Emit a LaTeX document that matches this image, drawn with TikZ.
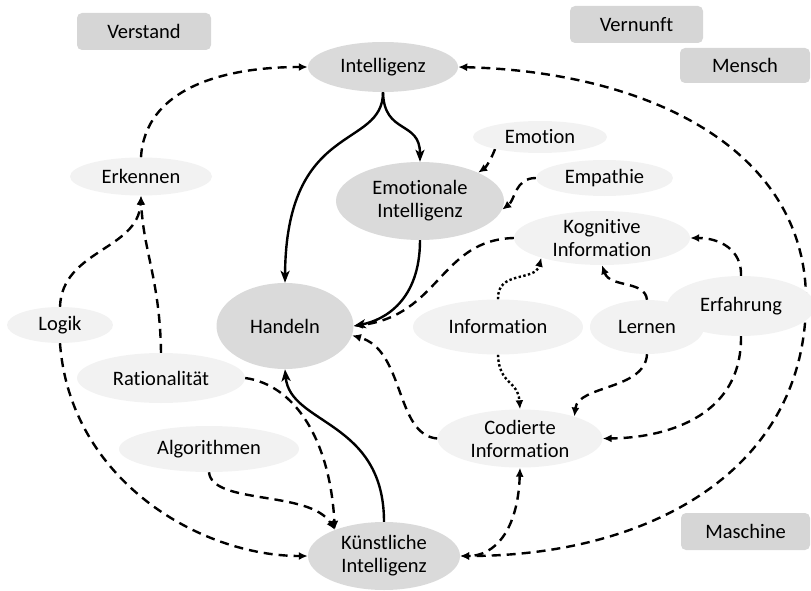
\documentclass[tikz,border=0pt]{standalone}
\usepackage{fontspec}
\setmainfont{Carlito}[Ligatures=NoCommon]
\usetikzlibrary{shapes.geometric,arrows.meta}
\definecolor{boxgray}{HTML}{D6D6D6}
\definecolor{ellgray}{HTML}{DADADA}
\definecolor{ellLight}{HTML}{F2F2F2}
\pgfdeclarelayer{bg}
\pgfsetlayers{bg,main}
\begin{document}
\begin{tikzpicture}[x=1pt,y=-1pt,
  every node/.style={font=\fontsize{20.5}{23}\selectfont, align=center, inner sep=0pt, text=black},
  tagbox/.style={rectangle, rounded corners=5pt, fill=boxgray},
  bigell/.style={ellipse, fill=ellgray},
  smallell/.style={ellipse, fill=ellLight},
  dashline/.style={line width=2.4pt, dash pattern=on 9pt off 6pt, -{Latex[length=9pt,width=8pt]}},
  dashboth/.style={line width=2.4pt, dash pattern=on 9pt off 6pt, {Latex[length=9pt,width=8pt]}-{Latex[length=9pt,width=8pt]}},
  dotline/.style={line width=2.4pt, dash pattern=on 2.4pt off 2.4pt, -{Latex[length=9pt,width=8pt]}},
  solidline/.style={line width=2.4pt, -{Stealth[length=12pt,width=9pt,inset=3pt]}}
]
\useasboundingbox (0,0) rectangle (811,591);

% category boxes
\node[tagbox, minimum width=134pt, minimum height=37pt] (Verstand) at (144,31.5) {Verstand};
\node[tagbox, minimum width=133pt, minimum height=37pt] (Vernunft) at (636.5,24.5) {Vernunft};
\node[tagbox, minimum width=130pt, minimum height=35pt] (Mensch) at (745,65.5) {Mensch};
\node[tagbox, minimum width=129pt, minimum height=37pt] (Maschine) at (745.5,531.5) {Maschine};

% main ellipses
\node[bigell, minimum width=150pt, minimum height=50pt] (Intelligenz) at (383,67) {Intelligenz};
\node[bigell, minimum width=168pt, minimum height=78pt] (EmoInt) at (420,201) {Emotionale\\Intelligenz};
\node[bigell, minimum width=137pt, minimum height=86pt] (Handeln) at (285,326) {Handeln};
\node[bigell, minimum width=152pt, minimum height=68pt] (Kuenstliche) at (384,556) {Künstliche\\Intelligenz};

% light ellipses
\node[smallell, minimum width=134pt, minimum height=32pt] (Emotion) at (540,137) {Emotion};
\node[smallell, minimum width=137pt, minimum height=36pt] (Empathie) at (604.5,178) {Empathie};
\node[smallell, minimum width=176pt, minimum height=54pt] (Kognitive) at (602,238) {Kognitive\\Information};
\node[smallell, minimum width=170pt, minimum height=55pt] (Information) at (498,327) {Information};
\node[smallell, minimum width=114pt, minimum height=54pt] (Lernen) at (647,327) {Lernen};
\node[smallell, minimum width=148pt, minimum height=60pt] (Erfahrung) at (741,306) {Erfahrung};
\node[smallell, minimum width=165pt, minimum height=58pt] (Codierte) at (520,438.5) {Codierte\\Information};
\node[smallell, minimum width=142pt, minimum height=38pt] (Erkennen) at (141,176.5) {Erkennen};
\node[smallell, minimum width=106pt, minimum height=36pt] (Logik) at (60,325) {Logik};
\node[smallell, minimum width=168pt, minimum height=50pt] (Rationalitaet) at (161,378) {Rationalität};
\node[smallell, minimum width=180pt, minimum height=46pt] (Algorithmen) at (209,449) {Algorithmen};

\begin{pgfonlayer}{bg}
\draw[dashline] (Erkennen.north) .. controls (145,90) and (220,67) .. (Intelligenz.west);
\draw[dashboth] (Intelligenz.east) .. controls (650,72) and (806,150) .. (806,300) .. controls (806,470) and (650,556) .. (Kuenstliche.east);
\draw[dashline] (Emotion.195) .. controls (490,162) and (485,168) .. (EmoInt.26);
\draw[dashline] (Empathie.west) .. controls (515,178) and (515,200) .. (EmoInt.-6);
\draw[solidline] (Intelligenz.south) .. controls (384,135) and (420,120) .. (EmoInt.north);
\draw[solidline] (Intelligenz.south) .. controls (383,150) and (286,120) .. (Handeln.north);
\draw[solidline] (EmoInt.south) .. controls (420,300) and (385,320) .. (Handeln.east);
\draw[dashline] (Kognitive.west) .. controls (440,240) and (440,315) .. (Handeln.east);
\draw[dashline] (Codierte.west) .. controls (395,435) and (405,350) .. (Handeln.-8);
\draw[dotline] (Information.north) .. controls (497,270) and (535,282) .. (Kognitive.198);
\draw[dotline] (Information.south) .. controls (499,385) and (518,380) .. (Codierte.north);
\draw[dashline] (Lernen.north) .. controls (645,280) and (610,288) .. (Kognitive.south);
\draw[dashline] (Lernen.south) .. controls (645,390) and (578,385) .. (Codierte.22);
\draw[dashline] (Erfahrung.south) .. controls (742,420) and (660,438) .. (Codierte.east);
\draw[dashline] (Erfahrung.north) .. controls (742,250) and (720,238) .. (Kognitive.east);
\draw[dashboth] (Codierte.south) .. controls (518,530) and (495,556) .. (Kuenstliche.east);
\draw[dashline] (Logik.north) .. controls (62,250) and (138,250) .. (Erkennen.south);
\draw[dashline] (Rationalitaet.north) .. controls (160,280) and (143,250) .. (Erkennen.south);
\draw[dashline] (Logik.south) .. controls (70,480) and (200,556) .. (Kuenstliche.west);
\draw[dashline] (Rationalitaet.east) .. controls (295,385) and (330,440) .. (Kuenstliche.152);
\draw[dashline] (Algorithmen.south) .. controls (212,505) and (310,490) .. (Kuenstliche.152);
\draw[solidline] (Kuenstliche.north) .. controls (384,420) and (290,425) .. (Handeln.south);
\end{pgfonlayer}
\end{tikzpicture}
\end{document}
